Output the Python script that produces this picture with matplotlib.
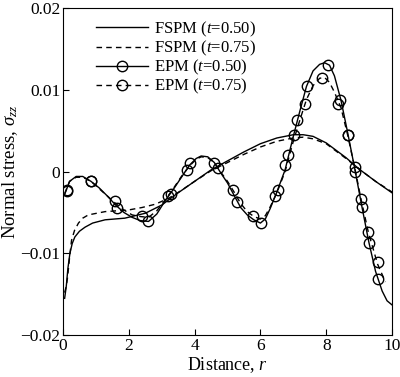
import numpy as np
import matplotlib
matplotlib.use("Agg")
import matplotlib.pyplot as plt
from matplotlib.lines import Line2D

plt.rcParams['font.family'] = ['Liberation Serif', 'DejaVu Serif']
plt.rcParams['mathtext.fontset'] = 'custom'
plt.rcParams['mathtext.rm'] = 'Liberation Serif'
plt.rcParams['mathtext.it'] = 'Liberation Serif:italic'

# FSPM (smooth, long wave)
r_fspm_050 = [0.05, 0.1, 0.15, 0.21, 0.28, 0.36, 0.5, 0.67, 0.9, 1.28, 1.88, 2.5, 3.0, 3.5, 4.0,
              4.5, 5.0, 5.5, 6.0, 6.5, 7.0, 7.3, 7.6, 8.0, 8.3, 8.6, 9.0, 9.5, 10.0]
s_fspm_050 = [-0.0155, -0.0140, -0.0118, -0.0100, -0.0088, -0.0080, -0.0073, -0.0068, -0.0063, -0.0059,
              -0.0057, -0.0051, -0.0041, -0.0026, -0.0012, 0.0002, 0.0013, 0.0024, 0.0034, 0.0041,
              0.0045, 0.0045, 0.0043, 0.0035, 0.0026, 0.0017, 0.0003, -0.0012, -0.0026]

r_fspm_075 = [0.05, 0.1, 0.14, 0.2, 0.26, 0.35, 0.47, 0.6, 0.77, 1.28, 1.99, 2.4, 2.8, 3.2, 3.6, 4.0,
              4.5, 5.0, 5.5, 6.0, 6.5, 7.0, 7.3, 7.6, 8.0, 8.3, 8.6, 9.0, 9.5, 10.0]
s_fspm_075 = [-0.0148, -0.0140, -0.0129, -0.0105, -0.0084, -0.0072, -0.0063, -0.0057, -0.0053, -0.0049,
              -0.0047, -0.0044, -0.0040, -0.0033, -0.0023, -0.0012, 0.0001, 0.0011, 0.0021, 0.0030,
              0.0037, 0.0041, 0.0042, 0.0040, 0.0034, 0.0025, 0.0016, 0.0003, -0.0012, -0.0025]

# EPM (oscillating)
r_epm_050 = [0.05, 0.2, 0.4, 0.6, 0.85, 1.1, 1.35, 1.6, 1.85, 2.1, 2.35, 2.6, 2.85, 3.1, 3.35, 3.6,
             3.85, 4.05, 4.2, 4.4, 4.6, 4.8, 5.0, 5.2, 5.4, 5.6, 5.8, 6.0, 6.15, 6.3, 6.5, 6.75,
             7.0, 7.2, 7.4, 7.6, 7.8, 7.95, 8.1, 8.25, 8.45, 8.65, 8.87, 9.1, 9.3, 9.5, 9.7, 9.85, 10.0]
s_epm_050 = [-0.0028, -0.0012, -0.0006, -0.0006, -0.0012, -0.0020, -0.0030, -0.0041, -0.0050, -0.0056,
             -0.0060, -0.0061, -0.0052, -0.0036, -0.0022, -0.0007, 0.0008, 0.0016, 0.0019, 0.0018,
             0.0011, -0.0002, -0.0014, -0.0029, -0.0044, -0.0053, -0.0059, -0.0063, -0.0058, -0.0045,
             -0.0025, 0.0002, 0.0043, 0.0074, 0.0104, 0.0123, 0.0131, 0.0133, 0.0130, 0.0117,
             0.0087, 0.0048, 0.0003, -0.0046, -0.0087, -0.0122, -0.0146, -0.0158, -0.0163]

r_epm_075 = [0.05, 0.2, 0.4, 0.6, 0.85, 1.1, 1.35, 1.6, 1.85, 2.1, 2.35, 2.6, 2.85, 3.1, 3.35, 3.6,
             3.85, 4.05, 4.2, 4.4, 4.6, 4.8, 5.0, 5.2, 5.4, 5.6, 5.8, 6.0, 6.15, 6.3, 6.5, 6.75,
             7.0, 7.2, 7.4, 7.6, 7.8, 7.95, 8.1, 8.25, 8.45, 8.65, 8.87, 9.06, 9.28, 9.56, 9.8]
s_epm_075 = [-0.0027, -0.0012, -0.0007, -0.0007, -0.0012, -0.0021, -0.0030, -0.0039, -0.0047, -0.0053,
             -0.0055, -0.0056, -0.0048, -0.0035, -0.0021, -0.0006, 0.0007, 0.0015, 0.0018, 0.0017,
             0.0011, -0.0001, -0.0012, -0.0025, -0.0039, -0.0049, -0.0055, -0.0058, -0.0054, -0.0043,
             -0.0026, 0.0000, 0.0037, 0.0063, 0.0088, 0.0105, 0.0114, 0.0115, 0.0109, 0.0097,
             0.0078, 0.0045, 0.0004, -0.0034, -0.0074, -0.0113, -0.0135]

# circle markers
r_mk_050 = [0.11, 0.85, 1.65, 2.59, 3.28, 3.86, 4.72, 5.28, 6.02, 6.54, 6.85, 7.10, 7.41, 8.05, 8.42,
            8.67, 8.87, 9.08, 9.30, 9.56]
s_mk_050 = [-0.0023, -0.0012, -0.0045, -0.0061, -0.0027, 0.0010, 0.0004, -0.0037, -0.0063, -0.0022,
            0.0020, 0.0063, 0.0105, 0.0130, 0.0088, 0.0045, 0.0000, -0.0043, -0.0087, -0.0131]
r_mk_075 = [0.11, 0.85, 1.58, 2.41, 3.20, 3.76, 4.60, 5.18, 5.78, 6.44, 6.75, 7.03, 7.36, 7.86, 8.37,
            8.67, 8.87, 9.06, 9.28, 9.56]
s_mk_075 = [-0.0024, -0.0011, -0.0036, -0.0054, -0.0030, 0.0002, 0.0011, -0.0022, -0.0054, -0.0030,
            0.0008, 0.0045, 0.0083, 0.0114, 0.0083, 0.0045, 0.0006, -0.0034, -0.0074, -0.0110]

yticks = [-0.02, -0.01, 0, 0.01, 0.02]
ytick_labels = ['\u22120.02', '\u22120.01', '0', '0.01', '0.02']
xticks = [0, 2, 4, 6, 8, 10]

fig = plt.figure(figsize=(4.0, 3.77), dpi=100)
ax = fig.add_axes([0.1575, 0.111, 0.8225, 0.868])

lw = 1.0
ax.plot(r_fspm_050, s_fspm_050, color='black', lw=lw)
ax.plot(r_fspm_075, s_fspm_075, color='black', lw=lw, dashes=(4, 3))
ax.plot(r_epm_050, s_epm_050, color='black', lw=lw)
ax.plot(r_epm_075, s_epm_075, color='black', lw=lw, dashes=(4, 3))
mk = dict(ls='none', marker='o', ms=7.5, mfc='none', mec='black', mew=1.0)
ax.plot(r_mk_050, s_mk_050, **mk)
ax.plot(r_mk_075, s_mk_075, **mk)

ax.set_xlim(0, 10)
ax.set_ylim(-0.02, 0.02)
ax.set_xticks(xticks)
ax.set_yticks(yticks)
ax.set_yticklabels(ytick_labels)
ax.tick_params(direction='in', length=4, labelsize=12.5, pad=2)
ax.set_xlabel('Distance, $\\mathit{r}$', fontsize=13, labelpad=1)
ax.set_ylabel('Normal stress, $\\mathit{\\sigma_{zz}}$', fontsize=13.5, labelpad=0)

handles = [
    Line2D([], [], color='black', lw=lw),
    Line2D([], [], color='black', lw=lw, dashes=(4, 3)),
    Line2D([], [], color='black', lw=lw, marker='o', ms=7.5, mfc='none', mew=1.0),
    Line2D([], [], color='black', lw=lw, dashes=(4, 3), marker='o', ms=7.5, mfc='none', mew=1.0),
]
labels = ['FSPM ($\\mathit{t}$=0.50)', 'FSPM ($\\mathit{t}$=0.75)',
          'EPM ($\\mathit{t}$=0.50)', 'EPM ($\\mathit{t}$=0.75)']
ax.legend(handles, labels, loc='upper left', bbox_to_anchor=(0.07, 0.995), frameon=False,
          fontsize=12, handlelength=3.1, handletextpad=0.35, labelspacing=0.0, borderpad=0.1)

fig.savefig('out.png', dpi=100)
